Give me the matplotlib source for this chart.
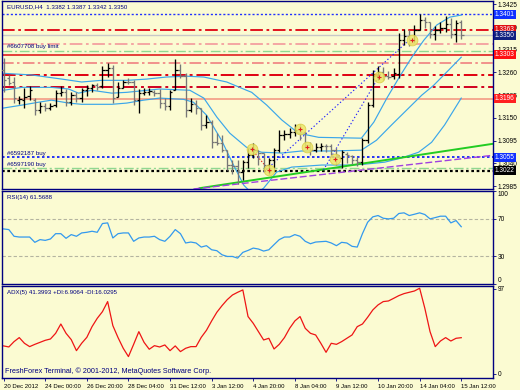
import matplotlib
matplotlib.use("Agg")
import matplotlib.pyplot as plt
import matplotlib.transforms as mtransforms
import numpy as np

plt.rcParams['font.family'] = ['Liberation Sans', 'DejaVu Sans']

BG = "#fbfbd2"
NAVY = "#000080"

# EURUSD H4 bars, 20 Dec 2012 .. 15 Jan 2013
bar_open = [1.3266, 1.3246, 1.3237, 1.3193, 1.3193, 1.3203, 1.3193, 1.3169, 1.3178, 1.3174,
            1.3181, 1.3210, 1.3212, 1.3188, 1.3205, 1.3198, 1.3217, 1.3222, 1.3229, 1.3227,
            1.3266, 1.3271, 1.3200, 1.3222, 1.3237, 1.3237, 1.3193, 1.3210, 1.3212, 1.3212,
            1.3210, 1.3186, 1.3178, 1.3217, 1.3266, 1.3251, 1.3169, 1.3183, 1.3174, 1.3133,
            1.3140, 1.3091, 1.3089, 1.3072, 1.3036, 1.3033, 1.3019, 1.3043, 1.3060, 1.3072,
            1.3065, 1.3036, 1.3048, 1.3072, 1.3108, 1.3111, 1.3116, 1.3120, 1.3116, 1.3084,
            1.3072, 1.3079, 1.3082, 1.3082, 1.3072, 1.3053, 1.3062, 1.3058, 1.3048, 1.3043,
            1.3096, 1.3181, 1.3251, 1.3261, 1.3251, 1.3251, 1.3256, 1.3338, 1.3348, 1.3338,
            1.3362, 1.3387, 1.3382, 1.3353, 1.3362, 1.3367, 1.3377, 1.3353, 1.3382]
bar_high = [1.3295, 1.3254, 1.3249, 1.3203, 1.3222, 1.3227, 1.3198, 1.3188, 1.3186, 1.3186,
            1.3217, 1.3227, 1.3220, 1.3212, 1.3212, 1.3222, 1.3229, 1.3232, 1.3234, 1.3275,
            1.3283, 1.3278, 1.3237, 1.3241, 1.3246, 1.3241, 1.3220, 1.3222, 1.3222, 1.3217,
            1.3220, 1.3198, 1.3217, 1.3292, 1.3280, 1.3258, 1.3198, 1.3193, 1.3174, 1.3157,
            1.3145, 1.3113, 1.3108, 1.3072, 1.3048, 1.3048, 1.3048, 1.3077, 1.3089, 1.3072,
            1.3065, 1.3053, 1.3077, 1.3120, 1.3120, 1.3125, 1.3135, 1.3135, 1.3116, 1.3091,
            1.3089, 1.3089, 1.3087, 1.3087, 1.3077, 1.3072, 1.3067, 1.3060, 1.3055, 1.3101,
            1.3188, 1.3266, 1.3275, 1.3273, 1.3263, 1.3271, 1.3355, 1.3365, 1.3362, 1.3375,
            1.3401, 1.3394, 1.3382, 1.3372, 1.3382, 1.3396, 1.3391, 1.3387, 1.3387]
bar_low = [1.3212, 1.3229, 1.3186, 1.3183, 1.3174, 1.3193, 1.3157, 1.3162, 1.3166, 1.3169,
           1.3176, 1.3203, 1.3178, 1.3181, 1.3188, 1.3188, 1.3203, 1.3212, 1.3217, 1.3222,
           1.3249, 1.3186, 1.3200, 1.3222, 1.3232, 1.3181, 1.3162, 1.3205, 1.3205, 1.3203,
           1.3174, 1.3169, 1.3169, 1.3217, 1.3246, 1.3152, 1.3164, 1.3159, 1.3120, 1.3125,
           1.3077, 1.3084, 1.3067, 1.3024, 1.3014, 1.2990, 1.2999, 1.3029, 1.3053, 1.3036,
           1.3024, 1.3014, 1.3029, 1.3067, 1.3096, 1.3101, 1.3106, 1.3096, 1.3077, 1.3060,
           1.3067, 1.3070, 1.3067, 1.3060, 1.3036, 1.3029, 1.3041, 1.3038, 1.3033, 1.3036,
           1.3089, 1.3176, 1.3241, 1.3241, 1.3244, 1.3244, 1.3246, 1.3326, 1.3324, 1.3333,
           1.3362, 1.3367, 1.3343, 1.3338, 1.3355, 1.3358, 1.3343, 1.3333, 1.3342]
bar_close = [1.3241, 1.3234, 1.3198, 1.3195, 1.3200, 1.3217, 1.3169, 1.3178, 1.3174, 1.3178,
             1.3210, 1.3212, 1.3188, 1.3205, 1.3198, 1.3217, 1.3222, 1.3229, 1.3224, 1.3266,
             1.3271, 1.3198, 1.3222, 1.3237, 1.3236, 1.3193, 1.3210, 1.3212, 1.3215, 1.3210,
             1.3186, 1.3178, 1.3212, 1.3266, 1.3251, 1.3169, 1.3183, 1.3174, 1.3133, 1.3140,
             1.3091, 1.3089, 1.3072, 1.3036, 1.3033, 1.3019, 1.3043, 1.3060, 1.3072, 1.3065,
             1.3036, 1.3048, 1.3072, 1.3108, 1.3111, 1.3116, 1.3120, 1.3116, 1.3084, 1.3072,
             1.3079, 1.3082, 1.3081, 1.3072, 1.3060, 1.3067, 1.3060, 1.3048, 1.3043, 1.3096,
             1.3181, 1.3251, 1.3261, 1.3251, 1.3250, 1.3258, 1.3338, 1.3348, 1.3338, 1.3362,
             1.3387, 1.3382, 1.3353, 1.3362, 1.3367, 1.3377, 1.3353, 1.3380, 1.3350]

rsi = [59.2, 58.5, 51.3, 50.5, 50.5, 50.5, 44.8, 47.7, 46.9, 48.4,
       54.1, 54.1, 49.1, 53.1, 51.3, 54.9, 55.6, 56.7, 55.6, 65.0,
       65.7, 49.5, 54.1, 54.9, 54.9, 45.9, 49.5, 50.5, 50.5, 51.3,
       47.7, 45.9, 51.3, 58.5, 54.1, 44.1, 45.1, 44.1, 39.7, 41.2,
       36.8, 35.8, 31.4, 29.6, 29.6, 27.8, 34.0, 36.1, 38.6, 37.6,
       35.4, 36.8, 42.3, 47.7, 50.5, 50.5, 53.1, 51.3, 45.9, 43.3,
       45.1, 45.5, 45.9, 44.1, 41.2, 44.8, 44.1, 40.5, 39.7, 54.1,
       66.4, 72.2, 73.6, 70.7, 70.0, 70.7, 75.8, 76.5, 73.6, 75.0,
       76.5, 74.7, 70.0, 71.4, 72.9, 72.9, 65.7, 68.2, 61.6]

adx = [32.0, 30.8, 36.9, 41.5, 35.0, 31.2, 33.8, 36.1, 38.4, 39.9,
       46.4, 57.0, 46.4, 39.2, 26.6, 35.0, 41.8, 54.0, 63.5, 71.1,
       82.6, 55.2, 41.5, 29.3, 19.8, 33.8, 48.3, 36.1, 28.2, 32.3,
       30.8, 33.1, 26.6, 32.0, 25.5, 29.3, 31.2, 31.2, 41.8, 49.8,
       60.5, 70.4, 78.0, 84.8, 90.1, 93.2, 95.9, 65.5, 57.8, 48.3,
       38.8, 40.7, 28.5, 33.8, 41.5, 52.1, 60.5, 65.5, 52.1, 46.4,
       44.5, 35.0, 24.7, 35.0, 33.8, 36.9, 40.7, 44.5, 54.0, 57.0,
       64.7, 73.1, 78.8, 82.6, 83.3, 86.3, 89.4, 91.7, 93.2, 94.7,
       97.8, 74.9, 48.3, 31.2, 37.6, 41.5, 37.6, 40.7, 41.4]

# Bollinger bands, points (bar position, price)
bb_upper_x = [0, 5.4, 11.2, 15, 18.8, 23.7, 27.5, 31.3, 35.2, 38.5, 42.9, 46.7, 47.7, 50.6,
              53.5, 56.7, 60.6, 68.8, 71.2, 73.7, 76.2, 78.5, 80.8, 83.3, 85.8, 88]
bb_upper = [1.3258, 1.3254, 1.3244, 1.3237, 1.3241, 1.3241, 1.3244, 1.3249, 1.3251, 1.3249,
            1.3237, 1.3217, 1.3212, 1.3181, 1.3145, 1.3113, 1.3103, 1.3101, 1.3140, 1.3198,
            1.3251, 1.3297, 1.3338, 1.3375, 1.3394, 1.3399]
bb_mid_x = [0, 3.5, 9.2, 12.5, 14.4, 16.9, 20.8, 23.7, 30, 35.8, 38.5, 41, 43.5, 46.7, 49.6,
            53.5, 57.3, 63.1, 68.8, 71.7, 74.6, 77.9, 80.4, 82.7, 85.6, 88]
bb_mid = [1.3217, 1.3224, 1.3224, 1.3220, 1.3210, 1.3217, 1.3210, 1.3212, 1.3220, 1.3217,
          1.3198, 1.3152, 1.3113, 1.3079, 1.3067, 1.3065, 1.3070, 1.3070, 1.3072, 1.3096,
          1.3133, 1.3174, 1.3205, 1.3229, 1.3266, 1.3297]
bb_low_x = [0, 3.5, 6.7, 9.2, 12.5, 15, 20.8, 23.7, 26.9, 30, 34.6, 36.5, 39, 41.9, 44.2, 46.2,
            48.1, 50, 52.5, 55.4, 61.2, 66.9, 69.4, 73.3, 76.5, 79.8, 82.3, 84.8, 88]
bb_low = [1.3174, 1.3181, 1.3188, 1.3193, 1.3186, 1.3183, 1.3183, 1.3186, 1.3193, 1.3198,
          1.3195, 1.3188, 1.3157, 1.3096, 1.3036, 1.2987, 1.2963, 1.2980, 1.3019, 1.3031,
          1.3036, 1.3036, 1.3038, 1.3043, 1.3053, 1.3067, 1.3091, 1.3133, 1.3198]

# horizontal levels
level_prices = [1.3401, 1.3363, 1.3350, 1.3330, 1.3312, 1.3303, 1.3282, 1.3253, 1.3225,
                1.3196, 1.3055, 1.3030, 1.3022]
level_colors = ["#2030ff", "#e00010", "#c8c8c8", "#f4a0a0", "#90d890", "#e02020", "#f08080",
                "#e00010", "#d00020", "#f4a890", "#0010ff", "#90d890", "#000000"]
level_styles = [(0, (1.5, 1.5)), (0, (7, 2, 1.5, 2)), "-", (0, (7, 2, 1.5, 2)), (0, (7, 2, 1.5, 2)),
                "-", (0, (7, 2, 1.5, 2)), (0, (7, 2, 1.5, 2)), (0, (7, 2, 1.5, 2)), "-",
                (0, (1.5, 1.5)), (0, (7, 2, 1.5, 2)), (0, (1.2, 1.2))]
level_widths = [1.0, 1.3, 1.0, 1.3, 1.0, 1.2, 1.2, 1.4, 1.4, 1.4, 1.2, 1.0, 1.6]

box_prices = [1.3401, 1.3363, 1.3350, 1.3303, 1.3196, 1.3055, 1.3022]
box_colors = ["#1030ff", "#e01010", "#102080", "#ff1010", "#ff2020", "#1030ff", "#000000"]

order_names = ["#6607708 buy limit", "#6592187 buy", "#6597190 buy"]
order_prices = [1.3316, 1.3058, 1.3032]

arrow_x = [47.7, 51.0, 56.9, 58.3, 63.7, 72.1, 78.5]
arrow_y = [1.3074, 1.3024, 1.3123, 1.3079, 1.3050, 1.3249, 1.3338]

trend_green_x = [37.7, 94.4]
trend_green_y = [1.2980, 1.3088]
trend_purple_x = [36.5, 94.4]
trend_purple_y = [1.2978, 1.3060]
fan1_x = [50.0, 77.5]
fan1_y = [1.3019, 1.3333]
fan2_x = [61.5, 72.7]
fan2_y = [1.3024, 1.3261]
link_x = [47.7, 50.2]
link_y = [1.3074, 1.3036]

price_ticks = [1.3425, 1.3370, 1.3315, 1.3260, 1.3205, 1.3150, 1.3095, 1.3040, 1.2985]
time_label_bars = [0, 8, 16, 24, 32, 40, 48, 56, 64, 72, 80, 88]
time_labels = ["20 Dec 2012", "24 Dec 00:00", "26 Dec 20:00", "28 Dec 04:00", "31 Dec 12:00",
               "3 Jan 12:00", "4 Jan 20:00", "8 Jan 04:00", "9 Jan 12:00", "10 Jan 20:00",
               "14 Jan 04:00", "15 Jan 12:00"]

FS = 4.4      # chart texts
FS_AX = 4.7   # price scale
FS_X = 4.3    # time scale
XLIM = (-0.3, 94.1)

fig = plt.figure(figsize=(5.2, 3.9), dpi=100, facecolor=BG)
ax = fig.add_axes([0.004, 0.5154, 0.944, 0.482], facecolor=BG)
ax_rsi = fig.add_axes([0.004, 0.2718, 0.944, 0.2385], facecolor=BG)
ax_adx = fig.add_axes([0.004, 0.0308, 0.944, 0.2359], facecolor=BG)

for a in (ax, ax_rsi, ax_adx):
    a.set_xlim(*XLIM)
    for s in a.spines.values():
        s.set_color(NAVY)
        s.set_linewidth(1.0)
    a.yaxis.tick_right()
    a.tick_params(axis="y", length=2, width=0.6, color=NAVY, labelsize=FS_AX, pad=1.5,
                  labelcolor="black")
    a.tick_params(axis="x", length=0)
    a.set_xticks([])

# --- main panel
ax.set_ylim(1.2978, 1.3433)
ax.set_yticks(price_ticks)
ax.set_yticklabels([f"{p:.4f}" for p in price_ticks])

for p, c, ls, lw in zip(level_prices, level_colors, level_styles, level_widths):
    ax.axhline(p, color=c, linestyle=ls, linewidth=lw, zorder=1)

ax.plot(bb_upper_x, bb_upper, color="#3aa6ea", lw=0.85, zorder=2)
ax.plot(bb_mid_x, bb_mid, color="#3aa6ea", lw=0.85, zorder=2)
ax.plot(bb_low_x, bb_low, color="#3aa6ea", lw=0.85, zorder=2)

ax.plot(trend_green_x, trend_green_y, color="#22cc22", lw=1.4, zorder=2)
ax.plot(trend_purple_x, trend_purple_y, color="#a040e0", lw=1.0, linestyle=(0, (5, 2)), zorder=2)
ax.plot(fan1_x, fan1_y, color="#2020ff", lw=0.8, linestyle=(0, (1.2, 2)), zorder=2)
ax.plot(fan2_x, fan2_y, color="#2020ff", lw=0.8, linestyle=(0, (1.2, 2)), zorder=2)
ax.plot(link_x, link_y, color="#e02020", lw=0.8, linestyle=(0, (1.2, 1.5)), zorder=2)

idx = np.arange(len(bar_close))
o = np.array(bar_open)
c = np.array(bar_close)
cols = np.where(c >= o, "#000000", "#777777")
ax.vlines(idx, bar_low, bar_high, colors=cols, lw=0.95, zorder=3)
ax.hlines(o, idx - 0.45, idx, colors=cols, lw=0.9, zorder=3)
ax.hlines(c, idx, idx + 0.45, colors=cols, lw=0.9, zorder=3)

ax.scatter(arrow_x, arrow_y, s=60, color="#ece66a", edgecolor="#d8cc40", lw=0.6, alpha=0.85, zorder=4)
ax.scatter(arrow_x, arrow_y, s=8, marker="+", color="#e02020", lw=0.8, zorder=5)

for name, p in zip(order_names, order_prices):
    ax.text(0.6, p, name, color=NAVY, fontsize=FS, va="bottom", ha="left", zorder=6)

ax.text(0.01, 0.985, "EURUSD,H4  1.3382 1.3387 1.3342 1.3350", transform=ax.transAxes,
        color=NAVY, fontsize=FS, va="top", ha="left")

trans = mtransforms.blended_transform_factory(ax.transAxes, ax.transData)
for p, col in zip(box_prices, box_colors):
    ax.text(1.004, p, f"{p:.4f}", transform=trans, color="white", fontsize=FS_AX, va="center",
            ha="left", clip_on=False, zorder=7,
            bbox=dict(boxstyle="square,pad=0.15", fc=col, ec="none"))

# --- RSI panel
ax_rsi.set_ylim(0, 100)
ax_rsi.set_yticks([0, 30, 70, 100])
labels = ax_rsi.get_yticklabels()
labels[-1].set_va("top")
labels[0].set_va("bottom")
ax_rsi.axhline(70, color="#b4b4a0", lw=0.8, linestyle=(0, (3, 2)))
ax_rsi.axhline(30, color="#b4b4a0", lw=0.8, linestyle=(0, (3, 2)))
ax_rsi.plot(idx, rsi, color="#3399ee", lw=0.9)
ax_rsi.text(0.01, 0.96, "RSI(14) 61.5688", transform=ax_rsi.transAxes, color=NAVY,
            fontsize=FS, va="top", ha="left")

# --- ADX panel
ax_adx.set_ylim(-4.6, 100.4)
ax_adx.set_yticks([0, 97])
ax_adx.plot(idx, adx, color="#ee1515", lw=0.9)
ax_adx.text(0.01, 0.96, "ADX(5) 41.3993 +DI:6.9064 -DI:16.0295", transform=ax_adx.transAxes,
            color=NAVY, fontsize=FS, va="top", ha="left")
ax_adx.text(0.005, 0.03, "FreshForex Terminal, \u00a9 2001-2012, MetaQuotes Software Corp.",
            transform=ax_adx.transAxes, color=NAVY, fontsize=5.2, va="bottom", ha="left")
ax_adx.set_xticks(time_label_bars)
ax_adx.set_xticklabels(time_labels)
ax_adx.tick_params(axis="x", length=2.5, width=0.6, color=NAVY, labelsize=FS_X, pad=1.5,
                   direction="out")
for lbl in ax_adx.get_xticklabels():
    lbl.set_ha("left")

fig.savefig("out.png", dpi=100, facecolor=BG)
